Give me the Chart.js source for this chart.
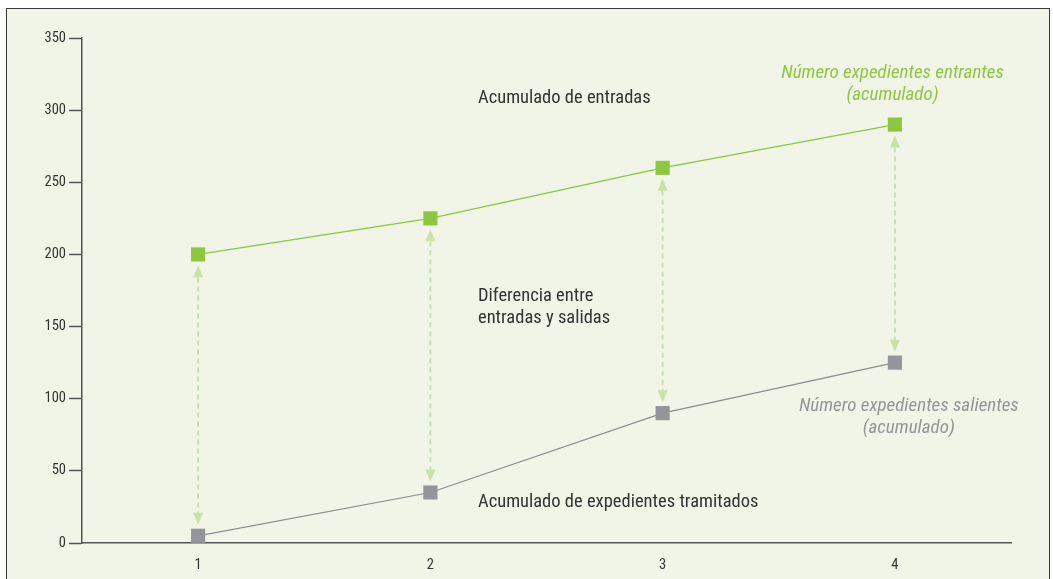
<!DOCTYPE html>
<html>
<head>
<meta charset="utf-8">
<script src="https://cdn.jsdelivr.net/npm/chart.js@4.4.1/dist/chart.umd.min.js"></script>
<style>
  html, body { margin: 0; padding: 0; background: #fff; }
  #frame {
    position: absolute; left: 6px; top: 8px; width: 1042px; height: 580px;
    background: #f0f5e8; border: 1.5px solid #3a3a3a; border-bottom: none;
  }
  #wrap { position: absolute; left: 0; top: 0; width: 1053px; height: 579px; }
</style>
</head>
<body>
<div id="frame"></div>
<div id="wrap"><canvas id="chart"></canvas></div>
<script>
const FONT = "'Liberation Sans Narrow', 'Roboto Condensed', Roboto, sans-serif";

const periods = ['1', '2', '3', '4'];
const entrantes = [200, 225, 260, 290];
const salientes = [5, 35, 90, 125];
const yTicks = [0, 50, 100, 150, 200, 250, 300, 350];

// free text, placed in data units (x = category index, y = value)
const notes = [
  { text: 'Acumulado de entradas', x: 1.205, y: 308, color: '#333333', italic: false, align: 'left' },
  { text: 'Diferencia entre', x: 1.205, y: 171, color: '#333333', italic: false, align: 'left' },
  { text: 'entradas y salidas', x: 1.205, y: 156, color: '#333333', italic: false, align: 'left' },
  { text: 'Acumulado de expedientes tramitados', x: 1.205, y: 28.4, color: '#333333', italic: false, align: 'left' },
  { text: 'Número expedientes entrantes', x: 2.99, y: 325.7, color: '#8dc63f', italic: true, align: 'center' },
  { text: '(acumulado)', x: 2.99, y: 310.5, color: '#8dc63f', italic: true, align: 'center' },
  { text: 'Número expedientes salientes', x: 3.06, y: 95, color: '#939598', italic: true, align: 'center' },
  { text: '(acumulado)', x: 3.06, y: 79.7, color: '#939598', italic: true, align: 'center' }
];

function arrowHead(ctx, x, tipY, dir) {
  // dir = 1 points down, -1 points up
  ctx.beginPath();
  ctx.moveTo(x, tipY);
  ctx.lineTo(x - 5, tipY - dir * 12);
  ctx.lineTo(x + 5, tipY - dir * 12);
  ctx.closePath();
  ctx.fill();
}

const gapArrows = {
  id: 'gapArrows',
  beforeDatasetsDraw(chart) {
    const { ctx } = chart;
    const xs = chart.scales.x, ys = chart.scales.y;
    ctx.save();
    ctx.strokeStyle = '#c8e2a8';
    ctx.fillStyle = '#c8e2a8';
    ctx.lineWidth = 2;
    periods.forEach((p, i) => {
      const x = xs.getPixelForValue(i);
      const top = ys.getPixelForValue(entrantes[i]) + 11;
      const bottom = ys.getPixelForValue(salientes[i]) - 11;
      ctx.setLineDash([5, 4]);
      ctx.beginPath();
      ctx.moveTo(x, top + 12);
      ctx.lineTo(x, bottom - 12);
      ctx.stroke();
      ctx.setLineDash([]);
      arrowHead(ctx, x, top, -1);
      arrowHead(ctx, x, bottom, 1);
    });
    ctx.restore();
  },
  afterDatasetsDraw(chart) {
    const { ctx } = chart;
    const xs = chart.scales.x, ys = chart.scales.y;
    ctx.save();
    ctx.textBaseline = 'middle';
    notes.forEach(n => {
      ctx.font = (n.italic ? 'italic 19px ' : '18.5px ') + FONT;
      ctx.fillStyle = n.color;
      ctx.textAlign = n.align;
      ctx.fillText(n.text, xs.getPixelForValue(n.x), ys.getPixelForValue(n.y));
    });
    ctx.restore();
  }
};

new Chart(document.getElementById('chart'), {
  type: 'line',
  data: {
    labels: periods,
    datasets: [
      {
        label: 'Número expedientes entrantes',
        data: entrantes,
        borderColor: '#8dc63f',
        backgroundColor: '#8dc63f',
        borderWidth: 1.2,
        pointStyle: 'rect',
        pointRadius: 10,
        pointBorderWidth: 0,
        tension: 0
      },
      {
        label: 'Número expedientes salientes',
        data: salientes,
        borderColor: '#8c8c8e',
        backgroundColor: '#939598',
        pointBackgroundColor: '#939598',
        borderWidth: 1.2,
        pointStyle: 'rect',
        pointRadius: 10,
        pointBorderWidth: 0,
        tension: 0
      }
    ]
  },
  options: {
    responsive: true,
    maintainAspectRatio: false,
    animation: false,
    layout: { padding: { left: 0, right: 42, top: 38, bottom: 0 } },
    plugins: { legend: { display: false }, tooltip: { enabled: false } },
    scales: {
      x: {
        offset: true,
        grid: { display: false, drawTicks: false },
        border: { color: '#555555', width: 1.5 },
        ticks: { color: '#333333', padding: 14, font: { family: FONT, size: 14.5 } },
        afterFit(scale) { scale.height = 36; }
      },
      y: {
        min: 0,
        max: 350,
        afterBuildTicks(scale) { scale.ticks = yTicks.map(v => ({ value: v })); },
        grid: { drawOnChartArea: false, drawTicks: true, tickLength: 13, color: '#555555', tickWidth: 1.5 },
        border: { color: '#555555', width: 1.5 },
        ticks: { color: '#333333', padding: 3, font: { family: FONT, size: 14.5 } },
        afterFit(scale) { scale.width = 82; }
      }
    }
  },
  plugins: [gapArrows]
});
</script>
</body>
</html>
